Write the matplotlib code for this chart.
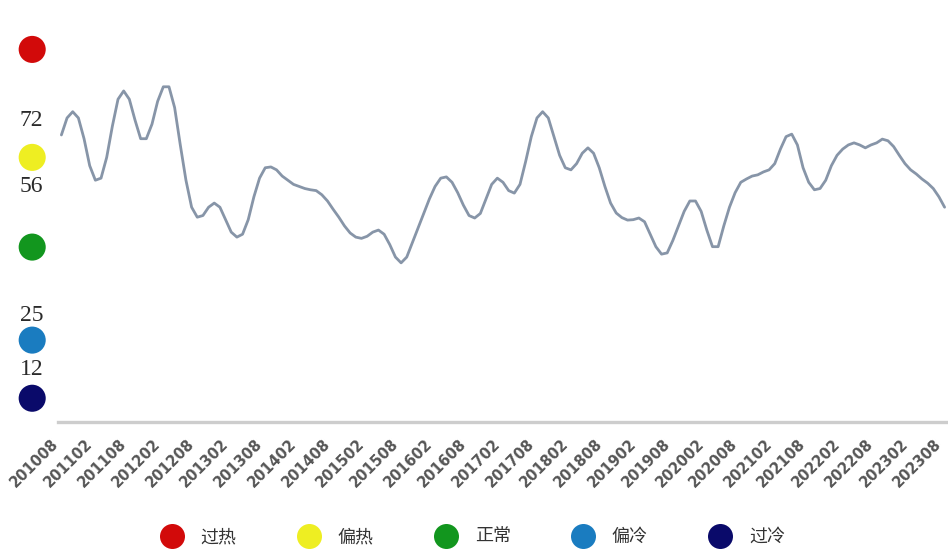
import numpy as np
import matplotlib.pyplot as plt
from matplotlib.lines import Line2D

# monthly index, 2010-08 .. 2023-08
index_values = [
    68.4, 72.5, 74.0, 72.5, 67.5, 61.0, 57.5, 58.0, 63.0, 70.5, 77.0, 79.0,
    77.0, 72.0, 67.5, 67.5, 71.0, 76.5, 80.0, 80.0, 75.0, 66.0, 57.5, 51.0,
    48.6, 49.0, 51.0, 52.0, 51.0, 48.0, 45.0, 43.8, 44.5, 48.0, 53.5, 58.0,
    60.5, 60.7, 60.0, 58.5, 57.5, 56.5, 56.0, 55.5, 55.2, 55.0, 54.0, 52.5,
    50.5, 48.6, 46.5, 44.8, 43.8, 43.5, 44.0, 45.0, 45.5, 44.5, 42.0, 39.0,
    37.6, 39.0, 42.5, 46.0, 49.5, 53.0, 56.0, 58.0, 58.3, 57.0, 54.5, 51.5,
    49.0, 48.4, 49.5, 53.0, 56.5, 58.0, 57.0, 55.0, 54.4, 56.5, 62.0, 68.0,
    72.5, 74.0, 72.5, 68.0, 63.5, 60.5, 60.0, 61.5, 64.0, 65.3, 64.0, 60.5,
    56.0, 52.0, 49.6, 48.5, 47.9, 48.0, 48.4, 47.5, 44.5, 41.5, 39.7, 40.0,
    43.0, 46.5, 50.0, 52.5, 52.5, 50.0, 45.5, 41.5, 41.5, 46.5, 51.0, 54.5,
    57.0, 57.8, 58.5, 58.8, 59.5, 60.0, 61.5, 65.0, 68.0, 68.6, 66.0, 60.5,
    57.0, 55.2, 55.5, 57.5, 61.0, 63.5, 65.0, 66.0, 66.5, 66.0, 65.3, 66.0,
    66.5, 67.4, 67.0, 65.6, 63.5, 61.5, 60.0, 59.0, 57.8, 56.8, 55.5, 53.5,
    51.0,
]

tick_labels = [
    "201008", "201102", "201108", "201202", "201208", "201302", "201308",
    "201402", "201408", "201502", "201508", "201602", "201608", "201702",
    "201708", "201802", "201808", "201902", "201908", "202002", "202008",
    "202102", "202108", "202202", "202208", "202302", "202308",
]

thresholds = [72, 56, 25, 12]
zone_names = ["过热", "偏热", "正常", "偏冷", "过冷"]
zone_colors = ["#d20a0a", "#eeee22", "#12961e", "#1a7cc0", "#0a0a6a"]
zone_levels = [89, 63, 41.4, 19, 5]

plt.rcParams['font.family'] = ['Noto Sans CJK SC', 'DejaVu Sans']

fig = plt.figure(figsize=(9.48, 5.51), dpi=100)
ax = fig.add_axes([58 / 948, 1 - 422 / 551, 890 / 948, 422 / 551])

months = np.arange(len(index_values))
ax.plot(months, index_values, color="#8795a8", lw=2.0,
        solid_capstyle="round", solid_joinstyle="round")

ax.set_xlim(-0.6, 156.6)
ax.set_ylim(-0.72, 100.9)

for side in ("top", "right", "left"):
    ax.spines[side].set_visible(False)
ax.spines["bottom"].set_color("#cdcdcd")
ax.spines["bottom"].set_linewidth(2.4)

ax.set_xticks(np.arange(0, len(index_values), 6))
ax.set_xticklabels(tick_labels, rotation=45, ha="right", va="bottom",
                   rotation_mode="anchor", fontsize=10.5, color="#555555",
                   family="DejaVu Sans", weight="bold")
ax.tick_params(axis="x", length=0, pad=18)
ax.set_yticks([])

# zone markers and threshold numbers to the left of the plot
ytr = ax.get_yaxis_transform()
ax.scatter([-0.029] * len(zone_levels), zone_levels, s=380, c=zone_colors,
           transform=ytr, clip_on=False, zorder=3, edgecolors="none")
for t in thresholds:
    ax.text(-0.03, t, str(t), transform=ytr, ha="center", va="center",
            fontsize=17, family="Liberation Serif", color="#2a2a2a")

handles = [Line2D([], [], ls="none", marker="o", markersize=18,
                  markerfacecolor=c, markeredgecolor="none") for c in zone_colors]
fig.legend(handles, zone_names, ncol=5, loc="center",
           bbox_to_anchor=(0.495, 1 - 537 / 551), frameon=False,
           fontsize=13, handletextpad=0.6, columnspacing=3.0,
           labelcolor="#333333")

fig.savefig("out.png", dpi=100, facecolor="white")
